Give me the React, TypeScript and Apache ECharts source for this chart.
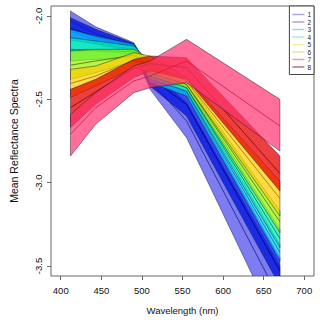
import React, { useEffect, useRef } from "react";
import * as echarts from "echarts";

const WAVELENGTHS = [412, 443, 490, 510, 555, 670];
const CLASSES = ["1", "2", "3", "4", "5", "6", "7", "8"];
const X_TICKS = [400, 450, 500, 550, 600, 650, 700];
const Y_TICKS = [-3.5, -3.0, -2.5, -2.0];

const UPPER = [
  [-1.97, -2.065, -2.16, -2.33, -2.52, -3.5],
  [-2.01, -2.08, -2.165, -2.32, -2.46, -3.45],
  [-2.08, -2.12, -2.17, -2.3, -2.43, -3.37],
  [-2.13, -2.15, -2.18, -2.28, -2.41, -3.28],
  [-2.21, -2.2, -2.2, -2.26, -2.39, -3.17],
  [-2.32, -2.3, -2.22, -2.24, -2.37, -2.99],
  [-2.44, -2.38, -2.26, -2.24, -2.25, -2.84],
  [-2.59, -2.46, -2.3, -2.27, -2.14, -2.5],
];
const LOWER = [
  [-2.09, -2.15, -2.21, -2.44, -2.73, -3.9],
  [-2.14, -2.17, -2.22, -2.42, -2.6, -3.62],
  [-2.21, -2.21, -2.23, -2.4, -2.48, -3.47],
  [-2.27, -2.26, -2.25, -2.38, -2.45, -3.39],
  [-2.38, -2.34, -2.27, -2.36, -2.43, -3.3],
  [-2.49, -2.42, -2.31, -2.34, -2.41, -3.2],
  [-2.67, -2.53, -2.37, -2.33, -2.38, -3.05],
  [-2.84, -2.65, -2.46, -2.43, -2.4, -2.81],
];
const MEAN = [
  [-2.03, -2.105, -2.185, -2.385, -2.63, -3.7],
  [-2.075, -2.125, -2.19, -2.37, -2.53, -3.53],
  [-2.145, -2.165, -2.2, -2.35, -2.455, -3.42],
  [-2.2, -2.205, -2.215, -2.33, -2.43, -3.335],
  [-2.295, -2.27, -2.235, -2.31, -2.41, -3.235],
  [-2.405, -2.36, -2.265, -2.29, -2.39, -3.095],
  [-2.55, -2.455, -2.315, -2.285, -2.31, -2.945],
  [-2.71, -2.55, -2.39, -2.36, -2.27, -2.66],
];

const FILLS = [
  "rgba(70,70,235,0.7)",
  "rgba(0,20,225,0.78)",
  "rgba(0,200,255,0.7)",
  "rgba(0,240,170,0.7)",
  "rgba(150,240,0,0.7)",
  "rgba(255,205,0,0.72)",
  "rgba(230,0,0,0.75)",
  "rgba(255,50,110,0.7)",
];
const MEAN_COLORS = ["#1a1a90", "#000070", "#006a90", "#007050", "#4a7000", "#9a7000", "#8a0000", "#d01838"];
const LEGEND_COLORS = ["#a8a8e8", "#b0a0e0", "#a0d8d0", "#b0e8e0", "#f0f0a0", "#f0e0a0", "#e0a0b0", "#b07090"];

export default function App() {
  const ref = useRef<HTMLDivElement>(null);
  useEffect(() => {
    if (!ref.current) return;
    const chart = echarts.init(ref.current, null, { renderer: "svg" });
    const font = "Liberation Sans, Arial, sans-serif";
    const series = CLASSES.map((name, k) => ({
      type: "custom",
      name,
      clip: true,
      itemStyle: { color: LEGEND_COLORS[k] },
      data: [[k]],
      renderItem: (params: any, api: any) => {
        const idx = k;
        const top = WAVELENGTHS.map((w, i) => api.coord([w, UPPER[idx][i]]));
        const bot = WAVELENGTHS.map((w, i) => api.coord([w, LOWER[idx][i]])).reverse();
        const mean = WAVELENGTHS.map((w, i) => api.coord([w, MEAN[idx][i]]));
        return {
          type: "group",
          children: [
            {
              type: "polygon",
              shape: { points: top.concat(bot) },
              style: { fill: FILLS[idx], stroke: "rgba(20,20,50,0.75)", lineWidth: 0.6 },
            },
            {
              type: "polyline",
              shape: { points: mean },
              style: { fill: null, stroke: MEAN_COLORS[idx], lineWidth: 0.8 },
            },
          ],
        };
      },
    }));
    chart.setOption({
      animation: false,
      textStyle: { fontFamily: font },
      grid: { left: 42, right: 6, top: 6, bottom: 42, show: true, borderColor: "#666", borderWidth: 1 },
      legend: {
        show: true,
        orient: "vertical",
        right: 6,
        top: 6,
        icon: "rect",
        itemWidth: 12,
        itemHeight: 1.5,
        itemGap: 0.5,
        padding: [5, 3, 4, 3],
        borderColor: "#444",
        borderWidth: 1,
        backgroundColor: "#fff",
        textStyle: { fontSize: 6.5, lineHeight: 7, color: "#222", fontFamily: font, padding: [0, 0, 0, -2] },
        data: CLASSES.map((n, k) => ({ name: n, itemStyle: { color: LEGEND_COLORS[k] } })),
      },
      xAxis: {
        type: "value",
        min: 388,
        max: 712,
        name: "Wavelength (nm)",
        nameLocation: "middle",
        nameGap: 29,
        nameTextStyle: { fontSize: 9.5, color: "#111", fontFamily: font },
        axisLine: { show: false },
        splitLine: { show: false },
        axisTick: { show: true, length: 4, lineStyle: { color: "#666" }, customValues: X_TICKS },
        axisLabel: { fontSize: 9.5, color: "#111", margin: 9, customValues: X_TICKS },
      },
      yAxis: {
        type: "value",
        min: -3.56,
        max: -1.94,
        name: "Mean Reflectance Spectra",
        nameLocation: "middle",
        nameRotate: 90,
        nameGap: 32,
        nameTextStyle: { fontSize: 10.5, color: "#111", fontFamily: font },
        axisLine: { show: false },
        splitLine: { show: false },
        axisTick: { show: true, length: 4, lineStyle: { color: "#666" }, customValues: Y_TICKS },
        axisLabel: {
          fontSize: 9.5,
          color: "#111",
          rotate: 90,
          margin: 8,
          customValues: Y_TICKS,
          formatter: (v: number) => v.toFixed(1),
        },
      },
      series,
    });
    return () => chart.dispose();
  }, []);
  return <div ref={ref} style={{ width: 320, height: 320, position: "absolute", left: 0, top: 0 }} />;
}
